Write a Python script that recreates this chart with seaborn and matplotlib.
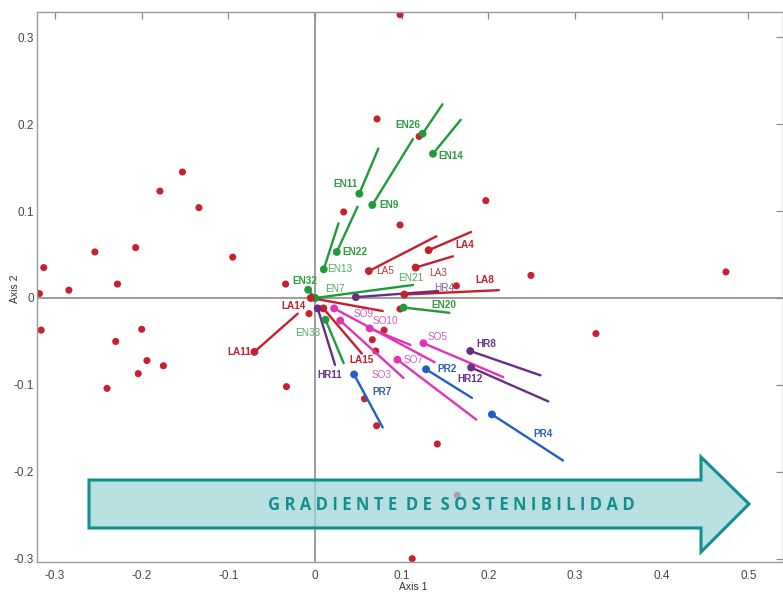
import matplotlib
matplotlib.use("Agg")
import matplotlib.pyplot as plt
from matplotlib.patches import Polygon
import pandas as pd
import seaborn as sns

# Ordination scores of the sampled sites (Axis 1, Axis 2)
site_x = [-0.318, -0.313, -0.284, -0.254, -0.228, -0.207, -0.179, -0.153, -0.134, -0.095,
          -0.034, -0.316, -0.200, -0.230, -0.194, -0.175, -0.204, -0.240, -0.033, -0.007,
          0.249, 0.474, 0.324, 0.141, 0.164, 0.112, 0.098, 0.0715, 0.120, 0.197,
          0.033, 0.098, 0.163, 0.0796, 0.066, 0.070, 0.098, 0.057, 0.071]
site_y = [0.005, 0.035, 0.009, 0.053, 0.016, 0.058, 0.123, 0.145, 0.104, 0.047,
          0.016, -0.037, -0.036, -0.050, -0.072, -0.078, -0.087, -0.104, -0.102, -0.018,
          0.026, 0.030, -0.041, -0.168, -0.227, -0.300, 0.326, 0.206, 0.186, 0.112,
          0.099, 0.084, 0.014, -0.037, -0.048, -0.061, -0.0127, -0.116, -0.147]

# Indicator vectors: anchor point (marker) and tip of each segment
vec_names = ["EN26", "EN14", "EN11", "EN9", "EN22", "EN13", "EN32", "EN7", "EN21", "EN20", "EN33",
             "LA4", "LA3", "LA5", "LA8", "LA14", "LA11", "LA15",
             "HR4", "HR11", "HR8", "HR12",
             "SO9", "SO10", "SO5", "SO7", "SO3",
             "PR7", "PR2", "PR4"]
vec_group = ["EN"] * 11 + ["LA"] * 7 + ["HR"] * 4 + ["SO"] * 5 + ["PR"] * 3
vec_x = [0.124, 0.136, 0.051, 0.066, 0.025, 0.010, -0.008, 0.0, 0.0, 0.102, 0.012,
         0.131, 0.116, 0.062, 0.103, -0.005, -0.070, 0.0096,
         0.047, 0.003, 0.179, 0.180,
         0.022, 0.063, 0.125, 0.095, 0.029,
         0.045, 0.128, 0.204]
vec_y = [0.189, 0.166, 0.120, 0.107, 0.053, 0.033, 0.0095, 0.0, 0.0, -0.011, -0.025,
         0.055, 0.035, 0.031, 0.004, 0.0, -0.062, -0.012,
         0.001, -0.012, -0.061, -0.080,
         -0.012, -0.035, -0.052, -0.071, -0.026,
         -0.088, -0.082, -0.134]
tip_x = [0.147, 0.168, 0.073, 0.113, 0.049, 0.027, 0.0, 0.0, 0.113, 0.155, 0.033,
         0.180, 0.159, 0.140, 0.212, 0.078, -0.020, 0.054,
         0.142, 0.023, 0.260, 0.269,
         0.138, 0.110, 0.217, 0.186, 0.102,
         0.078, 0.181, 0.286]
tip_y = [0.223, 0.205, 0.172, 0.183, 0.105, 0.086, 0.0, 0.0, 0.015, -0.017, -0.075,
         0.076, 0.048, 0.071, 0.009, -0.015, -0.018, -0.064,
         0.008, -0.077, -0.089, -0.119,
         -0.074, -0.054, -0.091, -0.140, -0.092,
         -0.149, -0.115, -0.187]

x_ticks = [-0.3, -0.2, -0.1, 0, 0.1, 0.2, 0.3, 0.4, 0.5]
y_ticks = [-0.3, -0.2, -0.1, 0, 0.1, 0.2, 0.3]
banner_text = "GRADIENTE DE SOSTENIBILIDAD"

# ---- styling -------------------------------------------------------------
line_colors = {"EN": "#1f9a3a", "LA": "#c41f2c", "HR": "#6a2d84", "SO": "#e233b6", "PR": "#1f5fc6"}
label_colors = {"EN": "#2f9b44", "LA": "#c0212d", "HR": "#6e3589", "SO": "#d04fc3", "PR": "#2e62b4"}
light_label_colors = {"EN": "#4eaa5c", "LA": "#c8363c", "HR": "#8b5aa6", "SO": "#d15cc6", "PR": "#2e62b4"}
site_color = "#c9202f"

# label placement: offset in pixels from the anchor marker, horizontal alignment, bold?
label_layout = {
    "EN26": (-2, 9, "right", True), "EN14": (5, -2, "left", True),
    "EN11": (-2, 10, "right", True), "EN9": (7, 0, "left", True),
    "EN22": (6, 0, "left", True), "EN13": (3, 0, "left", False),
    "EN32": (-16, 9, "left", True), "EN7": (10, 9, "left", False),
    "EN21": (83, 20, "left", False), "EN20": (28, 3, "left", True),
    "EN33": (-5, -13, "right", False),
    "LA4": (27, 5, "left", True), "LA3": (13, -5, "left", False),
    "LA5": (7, 0, "left", False), "LA8": (71, 15, "left", True),
    "LA14": (-5, -8, "right", True), "LA11": (-3, 0, "right", True),
    "LA15": (26, -52, "left", True),
    "HR4": (78, 9, "left", False), "HR11": (0, -67, "left", True),
    "HR8": (6, 7, "left", True), "HR12": (-14, -11, "left", True),
    "SO9": (19, -6, "left", False), "SO10": (3, 7, "left", False),
    "SO5": (4, 6, "left", False), "SO7": (6, 0, "left", False),
    "SO3": (31, -54, "left", False),
    "PR7": (18, -18, "left", True), "PR2": (11, 0, "left", True),
    "PR4": (41, -20, "left", True),
}

sns.set_style("white")
plt.rcParams["font.family"] = ["Liberation Sans", "DejaVu Sans"]
plt.rcParams["axes.unicode_minus"] = False

W, H = 783, 592
fig = plt.figure(figsize=(W / 100, H / 100), dpi=100)
ax = fig.add_axes([37 / W, 1 - 562 / H, 746 / W, 550 / H])

sites = pd.DataFrame({"x": site_x, "y": site_y})
vectors = pd.DataFrame({"name": vec_names, "group": vec_group,
                        "x": vec_x, "y": vec_y, "tx": tip_x, "ty": tip_y})
segments = pd.concat([
    vectors[["name", "group", "x", "y"]],
    vectors[["name", "group", "tx", "ty"]].rename(columns={"tx": "x", "ty": "y"}),
]).sort_index(kind="stable")

# reference axes through the origin
ax.axhline(0, color="#8c8c8c", lw=1.2, zorder=1)
ax.axvline(0, color="#8c8c8c", lw=1.2, zorder=1)

sns.scatterplot(data=sites, x="x", y="y", color=site_color, s=26, edgecolor="none",
                ax=ax, zorder=2, legend=False)
sns.lineplot(data=segments, x="x", y="y", hue="group", units="name", estimator=None,
             sort=False, palette=line_colors, lw=1.7, ax=ax, legend=False, zorder=3)
sns.scatterplot(data=vectors, x="x", y="y", hue="group", palette=line_colors, s=32,
                edgecolor="none", ax=ax, zorder=4, legend=False)

for name, grp, x, y in zip(vec_names, vec_group, vec_x, vec_y):
    dx, dy, ha, bold = label_layout[name]
    ax.annotate(name, (x, y), xytext=(dx, dy), textcoords="offset pixels",
                ha=ha, va="center", fontsize=7.2,
                fontweight="bold" if bold else "normal",
                color=label_colors[grp] if bold else light_label_colors[grp], zorder=5)

ax.set_xlim(-0.3208, 0.5398)
ax.set_ylim(-0.3038, 0.3291)
ax.set_xticks(x_ticks)
ax.set_yticks(y_ticks)
ax.set_xticklabels([f"{t:g}" for t in x_ticks])
ax.set_yticklabels([f"{t:g}" for t in y_ticks])
ax.tick_params(direction="in", top=True, right=True, length=5, width=0.9,
               color="#8c8c8c", labelsize=8.5, labelcolor="#474747")
ax.tick_params(axis="x", pad=6)
ax.tick_params(axis="y", pad=2)
for sp in ax.spines.values():
    sp.set_color("#9a9a9a")
    sp.set_linewidth(1.0)
ax.set_xlabel("Axis 1", fontsize=7.5, color="#333333", va="baseline")
ax.set_ylabel("Axis 2", fontsize=7.5, color="#333333")
ax.xaxis.set_label_coords(0.505, -0.0515)
ax.yaxis.set_label_coords(-0.0228, 0.497)

# gradient banner arrow laid over the plot
arrow_px = [(89, 480), (701, 480), (701, 457), (749, 504), (701, 552), (701, 528), (89, 528)]
arrow = Polygon([(px / W, 1 - py / H) for px, py in arrow_px], closed=True,
                transform=fig.transFigure, facecolor="#9fd4d5", alpha=0.72,
                edgecolor="none", zorder=10)
arrow_edge = Polygon([(px / W, 1 - py / H) for px, py in arrow_px], closed=True,
                     transform=fig.transFigure, facecolor="none",
                     edgecolor="#0f928f", lw=2.2, zorder=11)
fig.patches.extend([arrow, arrow_edge])
spaced = "  ".join(" ".join(word) for word in banner_text.split())
fig.text(451 / W, 1 - 505 / H, spaced, ha="center", va="center", fontsize=12,
         fontweight="bold", color="#138f8f", family=["Open Sans", "DejaVu Sans"], zorder=12)

fig.savefig("out.png", dpi=100)
